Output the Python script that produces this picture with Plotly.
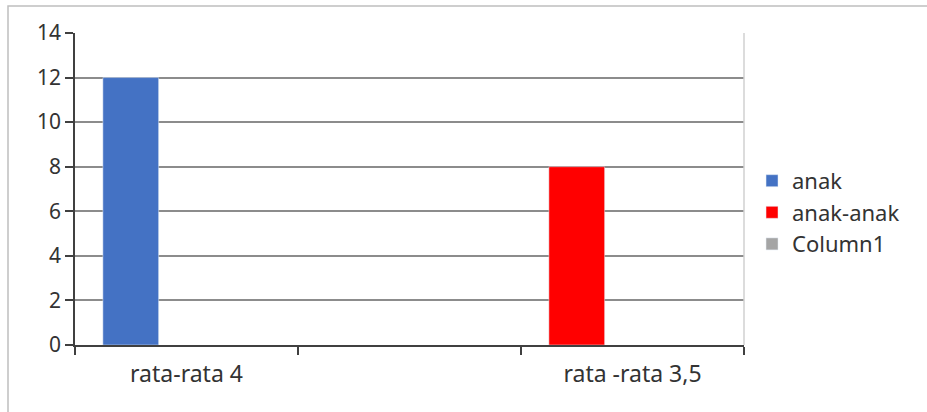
import plotly.graph_objects as go

categories = ["rata-rata 4", " ", "rata -rata 3,5"]
anak = [12, None, None]
anak_anak = [None, None, 8]
column1 = [None, None, None]
y_ticks = [0, 2, 4, 6, 8, 10, 12, 14]

FONT = "Noto Sans"
TXT = "#333333"

fig = go.Figure()
fig.add_trace(go.Bar(name="anak", x=categories, y=anak, marker_color="#4472C4",
                     width=0.25, offset=-0.375))
fig.add_trace(go.Bar(name="anak-anak", x=categories, y=anak_anak, marker_color="#FF0000",
                     width=0.25, offset=-0.375))
fig.add_trace(go.Bar(name="Column1", x=categories, y=column1, marker_color="#A5A5A5",
                     width=0.25, offset=-0.125, showlegend=True))

fig.update_layout(
    width=927, height=412,
    margin=dict(l=75, r=183, t=33, b=67),
    paper_bgcolor="white", plot_bgcolor="white",
    font=dict(family=FONT, size=21, color=TXT),
    barmode="group",
    showlegend=True,
    legend=dict(x=1.012, y=0.425, xanchor="left", yanchor="middle",
                font=dict(family=FONT, size=22, color=TXT),
                itemwidth=30, tracegroupgap=0, bgcolor="rgba(0,0,0,0)"),
    xaxis=dict(type="category", tickson="boundaries", ticks="outside", ticklen=8,
               tickcolor="#404040", tickwidth=1.5,
               showline=True, linecolor="#404040", linewidth=1.5,
               showgrid=False, tickfont=dict(family=FONT, size=23, color=TXT),
               ticklabelstandoff=8,
               range=[-0.5, 2.5]),
    yaxis=dict(range=[0, 14], tickvals=y_ticks, ticks="outside", ticklen=8,
               tickcolor="#404040", tickwidth=1.5,
               showline=True, linecolor="#404040", linewidth=1.5,
               showgrid=True, gridcolor="#8C8C8C", gridwidth=1.5,
               zeroline=False, tickfont=dict(family=FONT, size=21, color=TXT)),
    shapes=[
        dict(type="line", xref="paper", yref="paper", x0=1, x1=1, y0=0, y1=1,
             line=dict(color="#D0D0D0", width=1.5)),
        dict(type="rect", xref="paper", yref="paper",
             x0=(8 - 75) / 669, x1=(940 - 75) / 669,
             y0=(345 - 420) / 312, y1=(345 - 6) / 312,
             line=dict(color="#BFBFBF", width=1.5), fillcolor="rgba(0,0,0,0)"),
    ],
)

fig.write_html("out.html")
